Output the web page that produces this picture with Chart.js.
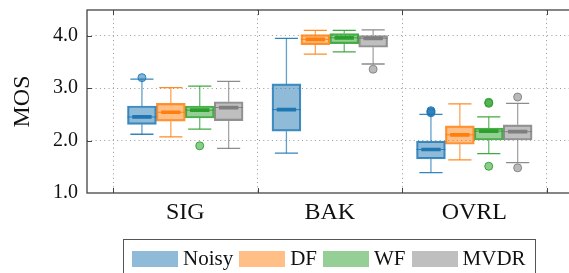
<!DOCTYPE html>
<html>
<head>
<meta charset="utf-8">
<script src="https://cdn.jsdelivr.net/npm/chart.js@4"></script>
<style>
  html, body { margin: 0; padding: 0; background: #fff; overflow: hidden; }
  #wrap { position: relative; width: 590px; height: 273px; }
  #legend {
    position: absolute; left: 123px; top: 239px; width: 413px; height: 40px;
    border: 1.3px solid #555; box-sizing: border-box;
    display: flex; align-items: flex-start; padding: 11px 0 0 8px;
    font-family: "Liberation Serif", serif; font-size: 21px; color: #111;
  }
  #legend .item { display: flex; align-items: center; margin-right: 6px; }
  #legend .sw { width: 46px; height: 16px; margin-right: 5px; }
  #legend .lbl { line-height: 16px; position: relative; top: -1px; }
</style>
</head>
<body>
<div id="wrap">
  <canvas id="chart" width="590" height="273"></canvas>
  <div id="legend"></div>
</div>
<script>
const categories = ["SIG", "BAK", "OVRL"];
const seriesNames = ["Noisy", "DF", "WF", "MVDR"];
const seriesColors = [[31, 119, 180], [255, 127, 14], [44, 160, 44], [127, 127, 127]];

// one row per series (Noisy, DF, WF, MVDR), one column per category
const whiskerLow = [
  [2.12, 1.76, 1.39],
  [2.07, 3.65, 1.63],
  [2.22, 3.69, 1.75],
  [1.85, 3.46, 1.58]
];
const quartile1 = [
  [2.31, 2.18, 1.65],
  [2.37, 3.83, 1.93],
  [2.43, 3.85, 2.01],
  [2.38, 3.78, 2.01]
];
const medians = [
  [2.45, 2.59, 1.83],
  [2.54, 3.93, 2.11],
  [2.58, 3.96, 2.18],
  [2.63, 3.95, 2.17]
];
const quartile3 = [
  [2.66, 3.08, 1.99],
  [2.71, 4.02, 2.28],
  [2.66, 4.04, 2.24],
  [2.74, 4.00, 2.30]
];
const whiskerHigh = [
  [3.17, 3.95, 2.50],
  [3.01, 4.10, 2.70],
  [3.04, 4.10, 2.45],
  [3.13, 4.11, 2.71]
];
const outliers = [
  [[3.20], [], [2.53, 2.55, 2.57]],
  [[], [], []],
  [[1.90], [], [1.51, 2.71, 2.73]],
  [[], [3.36], [1.48, 2.83]]
];
const yTicks = [1, 2, 3, 4];

const seriesOffset = [-0.3, -0.1, 0.1, 0.3];
const capHalf = 0.08;
const medHalf = 0.067;
const boxHalf = 0.1;
const rgba = (c, a) => `rgba(${c[0]},${c[1]},${c[2]},${a})`;
const gap = { x: null, y: null };

const datasets = [];
seriesNames.forEach((name, s) => {
  const c = seriesColors[s];
  const xs = categories.map((_, i) => i + 1 + seriesOffset[s]);
  datasets.push({
    type: "bar", label: name, order: 3,
    data: xs.map((x, i) => ({ x, y: [quartile1[s][i], quartile3[s][i]] })),
    backgroundColor: rgba(c, 0.5), borderColor: rgba(c, 0.85), borderWidth: 1.5,
    borderSkipped: false, grouped: false, categoryPercentage: 1, barPercentage: 1
  });
  const whisk = [], caps = [], medThin = [], medThick = [];
  xs.forEach((x, i) => {
    whisk.push({ x, y: quartile3[s][i] }, { x, y: whiskerHigh[s][i] }, gap,
               { x, y: quartile1[s][i] }, { x, y: whiskerLow[s][i] }, gap);
    caps.push({ x: x - capHalf, y: whiskerHigh[s][i] }, { x: x + capHalf, y: whiskerHigh[s][i] }, gap,
              { x: x - capHalf, y: whiskerLow[s][i] }, { x: x + capHalf, y: whiskerLow[s][i] }, gap);
    medThin.push({ x: x - boxHalf, y: medians[s][i] }, { x: x + boxHalf, y: medians[s][i] }, gap);
    medThick.push({ x: x - medHalf, y: medians[s][i] }, { x: x + medHalf, y: medians[s][i] }, gap);
  });
  const line = (data, color, width) => ({
    type: "line", order: 2, data, borderColor: color, borderWidth: width,
    pointRadius: 0, spanGaps: false, fill: false
  });
  datasets.push(line(whisk, rgba(c, 0.7), 1.3));
  datasets.push(line(caps, rgba(c, 0.9), 1.3));
  datasets.push(line(medThin, rgba(c, 0.9), 1));
  datasets.push(line(medThick, rgba(c, 1), 3.7));
  const pts = [];
  xs.forEach((x, i) => outliers[s][i].forEach(v => pts.push({ x, y: v })));
  datasets.push({
    type: "scatter", order: 1, data: pts, pointRadius: 4,
    backgroundColor: rgba(c, 0.55), borderColor: rgba(c, 0.9), borderWidth: 1
  });
});

const serif = "Liberation Serif";
Chart.defaults.font.family = serif;
Chart.defaults.color = "#111";
const gridGray = "rgba(140,140,140,0.9)";

const frame = {
  id: "frame",
  afterDatasetsDraw(chart) {
    const { ctx, chartArea: a, scales } = chart;
    ctx.save();
    ctx.strokeStyle = "#444";
    ctx.lineWidth = 1.3;
    ctx.strokeRect(a.left, a.top, a.right - a.left, a.bottom - a.top);
    ctx.lineWidth = 1;
    ctx.beginPath();
    yTicks.slice(1).forEach(v => {
      const y = Math.round(scales.y.getPixelForValue(v)) + 0.5;
      ctx.moveTo(a.left, y); ctx.lineTo(a.left + 5, y);
      ctx.moveTo(a.right, y); ctx.lineTo(a.right - 5, y);
    });
    categories.concat([""]).forEach((_, i) => {
      const x = Math.round(scales.x.getPixelForValue(i + 0.5)) + 0.5;
      ctx.moveTo(x, a.top); ctx.lineTo(x, a.top + 5);
      ctx.moveTo(x, a.bottom); ctx.lineTo(x, a.bottom - 5);
    });
    ctx.stroke();
    ctx.restore();
  }
};

new Chart(document.getElementById("chart"), {
  type: "bar",
  data: { datasets },
  options: {
    responsive: false,
    animation: false,
    devicePixelRatio: 1,
    layout: { padding: { top: 10, right: 5, left: 0, bottom: 0 } },
    plugins: { legend: { display: false }, tooltip: { enabled: false } },
    scales: {
      x: {
        type: "linear", min: 0.32, max: 3.766, offset: false,
        afterBuildTicks: sc => { sc.ticks = [0.5, 1, 1.5, 2, 2.5, 3, 3.5].map(v => ({ value: v })); },
        afterFit: sc => { sc.height = 80; sc.paddingLeft = 0; sc.paddingRight = 0; },
        ticks: {
          autoSkip: false, maxRotation: 0, padding: 5, color: "#111",
          font: { family: serif, size: 24 },
          callback: v => Number.isInteger(v) ? categories[v - 1] : ""
        },
        grid: {
          offset: false, drawTicks: false,
          color: ctx => ctx.tick && Number.isInteger(ctx.tick.value) ? "rgba(0,0,0,0)" : gridGray
        },
        border: { display: false, dash: [1, 3.3] }
      },
      y: {
        type: "linear", min: 1, max: 4.49,
        afterBuildTicks: sc => { sc.ticks = yTicks.map(v => ({ value: v })); },
        afterFit: sc => { sc.width = 87; sc.paddingTop = 0; sc.paddingBottom = 0; },
        ticks: {
          padding: 9, color: "#111",
          font: { family: serif, size: 20 },
          callback: v => v.toFixed(1)
        },
        title: {
          display: true, text: "MOS", color: "#111",
          font: { family: serif, size: 24 }, padding: { top: 8, bottom: 6 }
        },
        grid: {
          drawTicks: false,
          color: ctx => ctx.tick && ctx.tick.value === 1 ? "rgba(0,0,0,0)" : gridGray
        },
        border: { display: false, dash: [1, 3.3] }
      }
    }
  },
  plugins: [frame]
});

const legend = document.getElementById("legend");
seriesNames.forEach((name, s) => {
  const item = document.createElement("div");
  item.className = "item";
  const sw = document.createElement("div");
  sw.className = "sw";
  sw.style.background = rgba(seriesColors[s], 0.5);
  const lbl = document.createElement("span");
  lbl.className = "lbl";
  lbl.textContent = name;
  item.appendChild(sw);
  item.appendChild(lbl);
  legend.appendChild(item);
});
</script>
</body>
</html>
